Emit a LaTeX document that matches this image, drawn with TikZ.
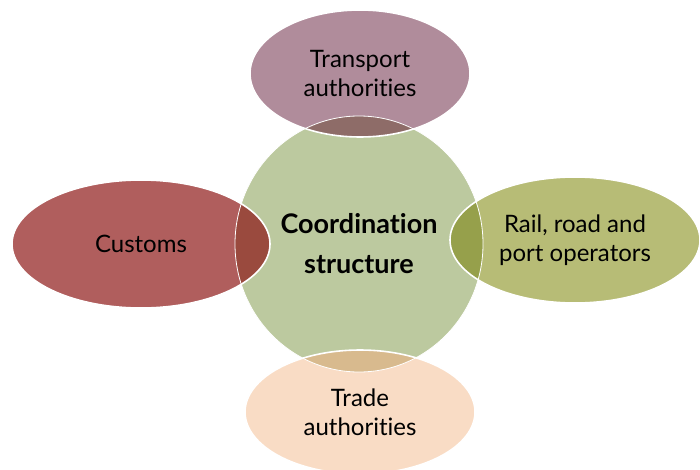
\documentclass[tikz,border=0pt]{standalone}
\usepackage{fontspec}
\setmainfont{Lato}[Ligatures=NoCommon]
\usetikzlibrary{shapes.geometric}
\definecolor{cgreen}{RGB}{188,201,159}
\definecolor{cmauve}{RGB}{176,140,155}
\definecolor{cred}{RGB}{176,94,93}
\definecolor{colive}{RGB}{183,188,118}
\definecolor{cpeach}{RGB}{249,220,197}
\definecolor{omauve}{RGB}{142,108,104}
\definecolor{ored}{RGB}{154,74,62}
\definecolor{oolive}{RGB}{150,160,75}
\definecolor{opeach}{RGB}{216,186,142}
\tikzset{
  petal/.style={ellipse, draw=white, line width=1.6pt, inner sep=0pt, align=center,
    font=\fontsize{24}{29}\selectfont},
  hub/.style={ellipse, draw=white, line width=0.8pt, inner sep=0pt, align=center,
    font=\fontsize{27}{40}\selectfont\bfseries}
}
\begin{document}
\begin{tikzpicture}[x=1pt,y=-1pt]
\useasboundingbox (0,0) rectangle (700,470);
% base fills
\fill[cgreen] (359,244) ellipse (124pt and 128pt);
\fill[cmauve] (360,73.5) ellipse (110pt and 63.5pt);
\fill[cred] (141,244) ellipse (129pt and 64pt);
\fill[colive] (575,240) ellipse (125pt and 63pt);
\fill[cpeach] (360,412) ellipse (115pt and 62pt);
% overlaps
\begin{scope}
\clip (359,244) ellipse (124pt and 128pt);
\fill[omauve] (360,73.5) ellipse (110pt and 63.5pt);
\fill[ored] (141,244) ellipse (129pt and 64pt);
\fill[oolive] (575,240) ellipse (125pt and 63pt);
\fill[opeach] (360,412) ellipse (115pt and 62pt);
\end{scope}
% nodes
\node[hub, minimum width=248pt, minimum height=256pt] (core) at (359,244) {Coordination\\structure};
\node[petal, minimum width=220pt, minimum height=127pt] (transport) at (360,73.5) {Transport\\authorities};
\node[petal, minimum width=258pt, minimum height=128pt] (customs) at (141,244) {Customs};
\node[petal, minimum width=250pt, minimum height=126pt] (operators) at (575,240) {Rail, road and\\port operators};
\node[petal, minimum width=230pt, minimum height=124pt] (trade) at (360,412) {Trade\\authorities};
\end{tikzpicture}
\end{document}
